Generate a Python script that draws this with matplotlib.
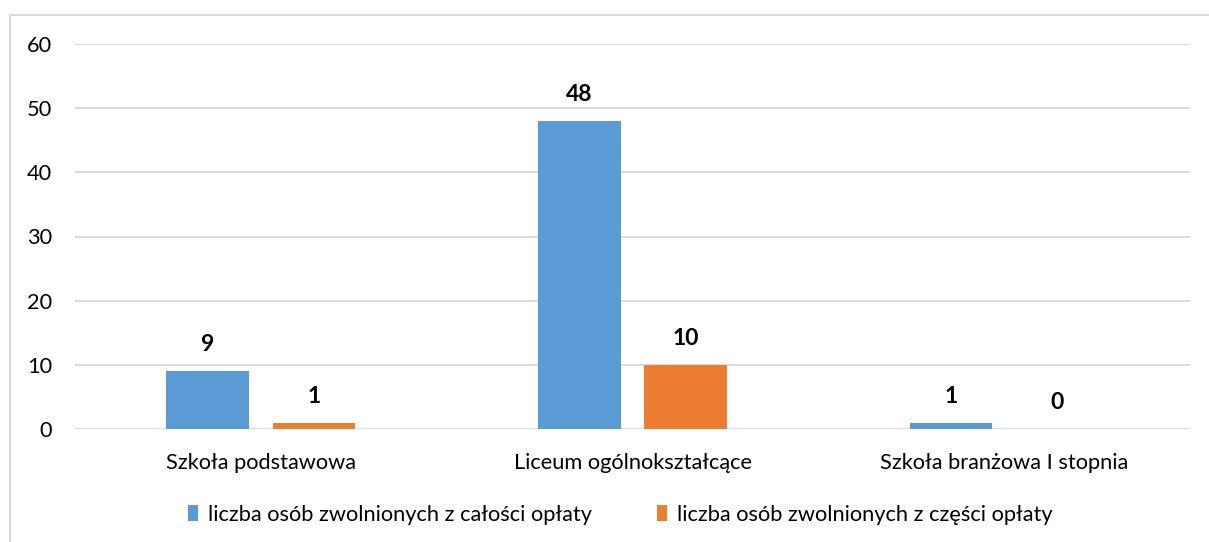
import matplotlib
matplotlib.use("Agg")
import matplotlib.pyplot as plt
import numpy as np
from matplotlib.lines import Line2D
from matplotlib.patches import Patch

categories = ["Szkoła podstawowa", "Liceum ogólnokształcące", "Szkoła branżowa I stopnia"]
full_exempt = [9, 48, 1]
partial_exempt = [1, 10, 0]
series_names = ["liczba osób zwolnionych z całości opłaty", "liczba osób zwolnionych z części opłaty"]
y_ticks = [0, 10, 20, 30, 40, 50, 60]

plt.rcParams['font.family'] = ['Lato', 'DejaVu Sans']

BLUE = "#5B9BD5"
ORANGE = "#ED7D31"
GRID = "#D9D9D9"

fig = plt.figure(figsize=(12.09, 5.42), dpi=100)
ax = fig.add_axes([75/1209, 1-429/542, (1190-75)/1209, (429-44)/542])

x = np.arange(len(categories))
w = 0.223
off = 0.143
b1 = ax.bar(x - off, full_exempt, w, color=BLUE, zorder=3)
b2 = ax.bar(x + off, partial_exempt, w, color=ORANGE, zorder=3)

for bars, vals in ((b1, full_exempt), (b2, partial_exempt)):
    for r, v in zip(bars, vals):
        ax.annotate(str(v), (r.get_x() + r.get_width()/2, r.get_height()),
                    xytext=(0, 11.5), textcoords="offset points",
                    ha="center", va="bottom", fontsize=16.5, fontweight="bold", color="#000000")

ax.set_xlim(-0.5, len(categories) - 0.5)
ax.set_ylim(0, 60)
ax.set_yticks(y_ticks)
ax.set_xticks(x)
ax.set_xticklabels(categories)
ax.yaxis.grid(True, color=GRID, linewidth=1.3, zorder=0)
ax.set_axisbelow(True)
for s in ax.spines.values():
    s.set_visible(False)
ax.tick_params(axis="both", length=0, labelsize=15.7, colors="#000000")
ax.tick_params(axis="y", pad=16.5)
ax.tick_params(axis="x", pad=17)

handles = [Patch(facecolor=BLUE), Patch(facecolor=ORANGE)]
fig.legend(handles, series_names, loc="center", bbox_to_anchor=(0.513, 1-515/542), ncol=2,
           frameon=False, fontsize=15.7, handlelength=0.46, handleheight=0.75, handletextpad=0.45,
           columnspacing=3.0, borderaxespad=0, borderpad=0)

# outer border (top and left visible)
fig.add_artist(Line2D([10/1209, 1], [1-15/542, 1-15/542], color="#D9D9D9", linewidth=1.5, transform=fig.transFigure))
fig.add_artist(Line2D([10/1209, 10/1209], [0, 1-15/542], color="#D9D9D9", linewidth=1.5, transform=fig.transFigure))

fig.savefig("out.png", dpi=100)
